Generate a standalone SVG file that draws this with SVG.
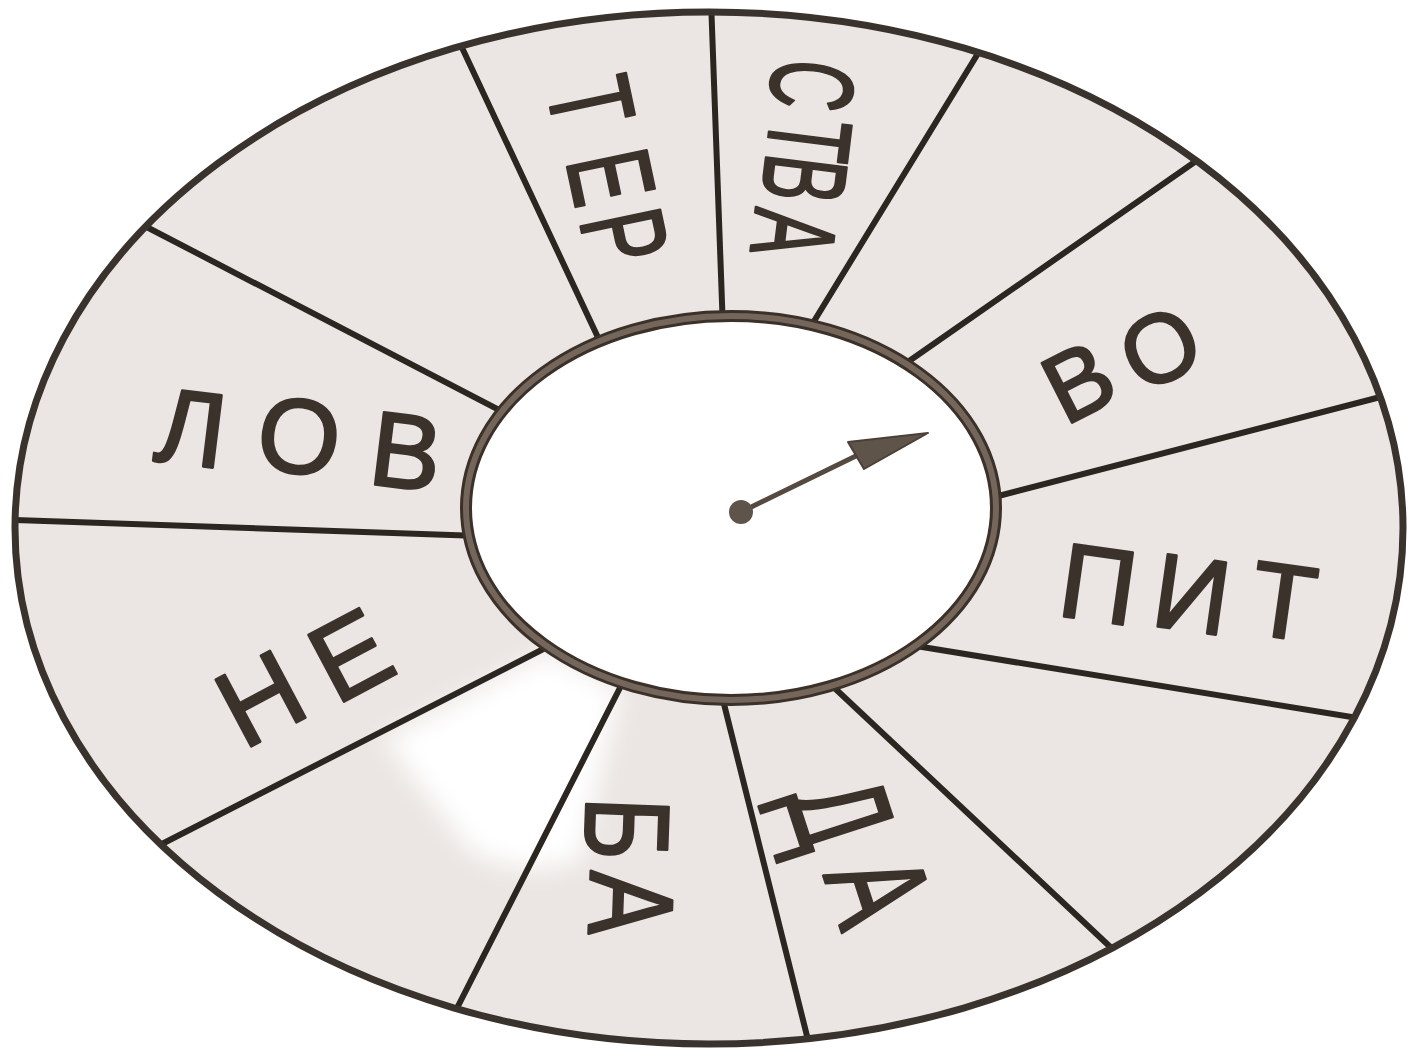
<svg xmlns="http://www.w3.org/2000/svg" width="1410" height="1049" viewBox="0 0 1410 1049">
<defs>
<style>
.lbl { font-family: "Liberation Sans", Arial, sans-serif; fill: #3a322b; stroke: #3a322b; stroke-width: 2.5; stroke-linejoin: round; text-anchor: middle; }
.dv { stroke: #2c2621; stroke-width: 6; stroke-linecap: round; fill: none; }
</style>
<ellipse id="outerShape" cx="709" cy="528" rx="694" ry="516"/>
<clipPath id="outerClip"><use href="#outerShape"/></clipPath>
<filter id="soft" x="-30%" y="-30%" width="160%" height="160%"><feGaussianBlur stdDeviation="12"/></filter>
</defs>
<rect width="1410" height="1049" fill="#ffffff"/>
<g id="ring">
<use href="#outerShape" fill="#ebe6e3"/>
<g clip-path="url(#outerClip)"><path d="M548,652 L620,690 L580,860 Q520,880 470,850 L385,740 Z" fill="#ffffff" filter="url(#soft)"/></g>
</g>
<g id="connectors" clip-path="url(#outerClip)">
<line class="dv" x1="723" y1="330" x2="711" y2="0"/>
<line class="dv" x1="808" y1="331" x2="985" y2="42"/>
<line class="dv" x1="902" y1="366" x2="1209" y2="152"/>
<line class="dv" x1="983" y1="500" x2="1392" y2="394"/>
<line class="dv" x1="910" y1="645" x2="1370" y2="720"/>
<line class="dv" x1="826" y1="680" x2="1121" y2="957"/>
<line class="dv" x1="720" y1="688" x2="811" y2="1052"/>
<line class="dv" x1="627" y1="674" x2="453" y2="1016"/>
<line class="dv" x1="557" y1="642" x2="156" y2="847"/>
<line class="dv" x1="480" y1="536" x2="0" y2="519.5"/>
<line class="dv" x1="509" y1="415" x2="135" y2="221"/>
<line class="dv" x1="602" y1="346" x2="457" y2="37"/>
</g>
<g id="hub">
<ellipse cx="731" cy="508" rx="265" ry="192" fill="#ffffff" stroke="#3b3129" stroke-width="12"/>
<ellipse cx="731" cy="508" rx="265" ry="192" fill="none" stroke="#74665a" stroke-width="6"/>
</g>
<use id="rim" href="#outerShape" fill="none" stroke="#3a332d" stroke-width="7"/>
<g id="seg-lov"><text class="lbl" font-size="106" transform="translate(299,437) rotate(7)" x="-108 0 108" y="41 36 38">ЛОВ</text></g>
<g id="seg-ter"><text class="lbl" font-size="118" transform="translate(609,172) rotate(78) scale(0.65,1)" x="-111 8 102" y="44 40 39">ТЕР</text></g>
<g id="seg-stva"><text class="lbl" font-size="118" transform="translate(805,160) rotate(97) scale(0.58,1)" x="-129 -36 33 129" y="43 39 39 43">СТВА</text></g>
<g id="seg-vo"><text class="lbl" font-size="97" transform="translate(1119,364) rotate(-27)" x="-44 44" y="31 38">ВО</text></g>
<g id="seg-pit"><text class="lbl" font-size="106" transform="translate(1192,593) rotate(8)" x="-94 0 92" y="41 38 32">ПИТ</text></g>
<g id="seg-da"><text class="lbl" font-size="140" transform="translate(861,850) rotate(72) scale(0.66,1)" x="-65 65" y="56 44">ДА</text></g>
<g id="seg-ba"><text class="lbl" font-size="120" transform="translate(631,866) rotate(92) scale(0.8,1)" x="-46 47" y="47 40">БА</text></g>
<g id="seg-ne"><text class="lbl" font-size="110" transform="translate(305,676) rotate(-28)" x="-50 50" y="37 41">НЕ</text></g>
<g id="pointer">
<line x1="741" y1="512" x2="860" y2="454" stroke="#544a41" stroke-width="5" stroke-linecap="round"/>
<circle cx="741" cy="512" r="12" fill="#5f5449"/>
<polygon points="848,442 928,433 864,469" fill="#5f5449" stroke="#4a4038" stroke-width="2" stroke-linejoin="round"/>
</g>
</svg>
